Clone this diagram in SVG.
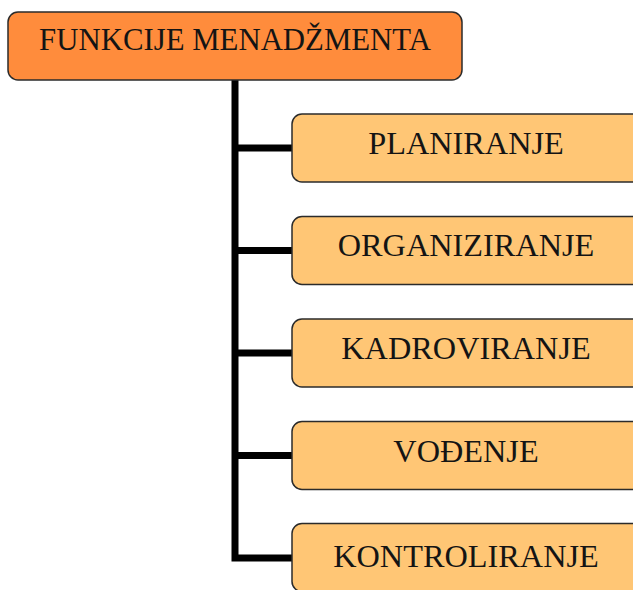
<svg xmlns="http://www.w3.org/2000/svg" width="633" height="590" viewBox="0 0 633 590">
<style>
.box{stroke:#2b2b2b;stroke-width:1.5}
.root{fill:#FF8C3C}
.child{fill:#FFC675}
.t{font-family:"Liberation Serif","Times New Roman",serif;fill:#141414;text-anchor:middle}
.conn{fill:none;stroke:#000;stroke-width:7;stroke-linejoin:miter}
</style>
<rect width="633" height="590" fill="#fff"/>
<g id="connectors">
<path class="conn" d="M235 79 V558 H292"/>
<path class="conn" d="M235 148 H292 M235 250.5 H292 M235 353 H292 M235 455.5 H292"/>
</g>
<g id="root">
<rect class="box root" x="8" y="12" width="454" height="68" rx="10"/>
<text class="t" x="235" y="50" font-size="30.8">FUNKCIJE MENADŽMENTA</text>
</g>
<g id="planiranje">
<rect class="box child" x="292" y="114" width="350" height="68" rx="10"/>
<text class="t" x="466" y="154" font-size="32.3">PLANIRANJE</text>
</g>
<g id="organiziranje">
<rect class="box child" x="292" y="216.5" width="350" height="68" rx="10"/>
<text class="t" x="466" y="256" font-size="32.3">ORGANIZIRANJE</text>
</g>
<g id="kadroviranje">
<rect class="box child" x="292" y="319" width="350" height="68" rx="10"/>
<text class="t" x="466" y="359" font-size="32.3">KADROVIRANJE</text>
</g>
<g id="vodjenje">
<rect class="box child" x="292" y="421.5" width="350" height="68" rx="10"/>
<text class="t" x="466" y="462" font-size="32.3">VOĐENJE</text>
</g>
<g id="kontroliranje">
<rect class="box child" x="292" y="523.5" width="350" height="68" rx="10"/>
<text class="t" x="466" y="567" font-size="32.3">KONTROLIRANJE</text>
</g>
</svg>
